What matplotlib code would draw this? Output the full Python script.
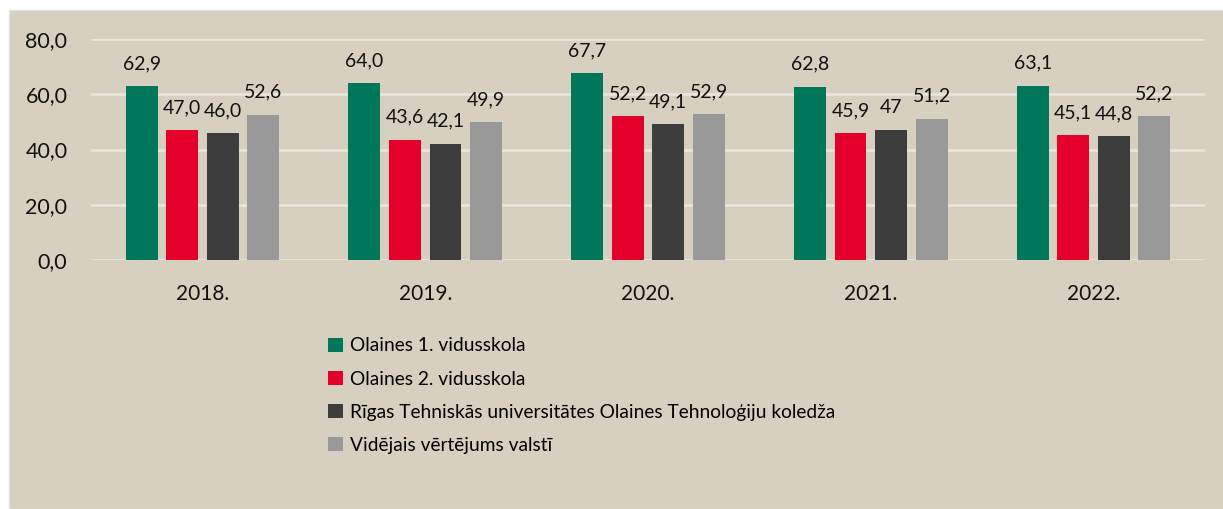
import matplotlib.pyplot as plt
import numpy as np
from matplotlib.patches import Rectangle

years = ["2018.", "2019.", "2020.", "2021.", "2022."]
series_names = [
    "Olaines 1. vidusskola",
    "Olaines 2. vidusskola",
    "Rīgas Tehniskās universitātes Olaines Tehnoloģiju koledža",
    "Vidējais vērtējums valstī",
]
olaines1 = [62.9, 64.0, 67.7, 62.8, 63.1]
olaines2 = [47.0, 43.6, 52.2, 45.9, 45.1]
rtu_koledza = [46.0, 42.1, 49.1, 47.0, 44.8]
valsti = [52.6, 49.9, 52.9, 51.2, 52.2]
# labels as printed on the chart (one of them has no decimal)
label_texts = [
    ["62,9", "64,0", "67,7", "62,8", "63,1"],
    ["47,0", "43,6", "52,2", "45,9", "45,1"],
    ["46,0", "42,1", "49,1", "47", "44,8"],
    ["52,6", "49,9", "52,9", "51,2", "52,2"],
]
colors = ["#00775A", "#E4002B", "#3D3D3D", "#999999"]
bg = "#D8D0BF"

plt.rcParams['font.family'] = ['Lato', 'DejaVu Sans']

fig = plt.figure(figsize=(12.23, 5.09), dpi=100)
fig.patch.set_facecolor("white")
# beige panel behind everything
fig.patches.append(Rectangle((9 / 1223, 0), 1, 1 - 10 / 509, transform=fig.transFigure,
                             facecolor=bg, edgecolor="#E2E2E2", linewidth=1, zorder=-5))

ax = fig.add_axes([91 / 1223, 1 - 260 / 509, (1205 - 91) / 1223, (260 - 39) / 509])
ax.set_zorder(1)
ax.patch.set_alpha(0)

x = np.arange(len(years))
width = 0.143
pitch = 0.182
all_series = [olaines1, olaines2, rtu_koledza, valsti]

handles = []
for i, vals in enumerate(all_series):
    pos = x + (i - 1.5) * pitch
    b = ax.bar(pos, vals, width=width, color=colors[i], label=series_names[i], zorder=3)
    handles.append(b)
    for p, v, t in zip(pos, vals, label_texts[i]):
        ax.annotate(t, (p, v), xytext=(0, 10), textcoords="offset points",
                    ha="center", va="bottom", fontsize=14, color="#111111")

ax.set_xlim(-0.5, len(years) - 0.5)
ax.set_ylim(0, 80)
ax.set_yticks([0, 20, 40, 60, 80])
ax.set_yticklabels(["0,0", "20,0", "40,0", "60,0", "80,0"], fontsize=15.5)
ax.set_xticks(x)
ax.set_xticklabels(years, fontsize=15)
ax.tick_params(axis="both", length=0, colors="#111111")
ax.tick_params(axis="y", pad=17)
ax.tick_params(axis="x", pad=17)
ax.grid(axis="y", color="#E9E5DD", linewidth=2, zorder=0)
ax.set_axisbelow(True)
for s in ax.spines.values():
    s.set_visible(False)

leg = fig.legend(handles=handles, loc="upper left", bbox_to_anchor=(311 / 1223, 1 - 320 / 509),
                 frameon=False, fontsize=13.8, handlelength=0.75, handleheight=0.75,
                 handletextpad=0.4, labelspacing=0.85)

plt.savefig("out.png", dpi=100, facecolor=fig.get_facecolor())
